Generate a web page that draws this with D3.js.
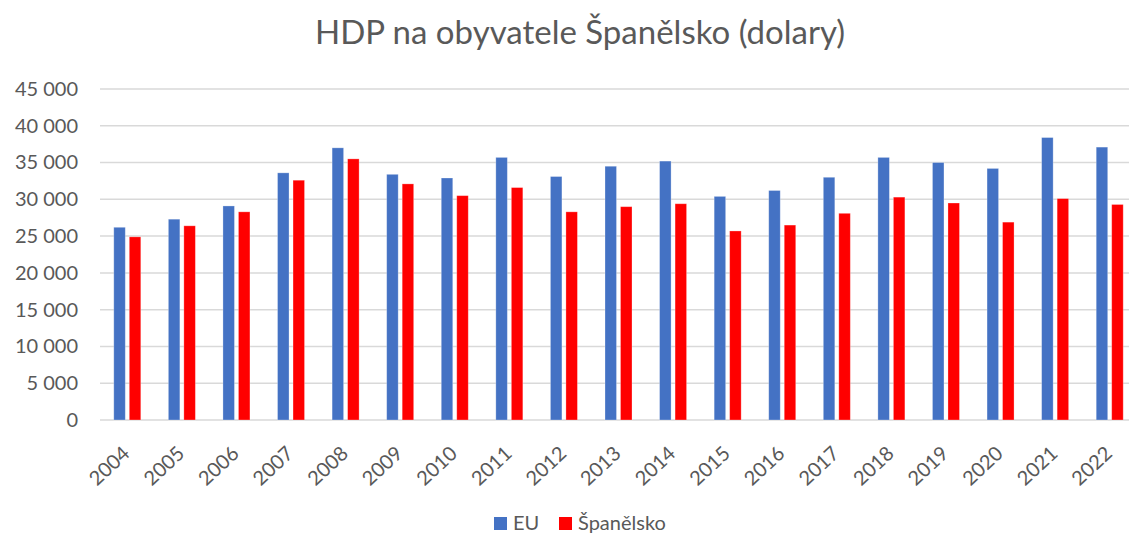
<!DOCTYPE html>
<html>
<head>
<meta charset="utf-8">
<script src="https://cdn.jsdelivr.net/npm/d3@7"></script>
<style>
  body { margin: 0; background: #fff; }
  svg { display: block; font-family: Lato, "Open Sans", sans-serif; }
</style>
</head>
<body>
<div id="chart"></div>
<script>
WIDTH = 1129;
HEIGHT = 536;

// Data
var years = ["2004", "2005", "2006", "2007", "2008", "2009", "2010", "2011", "2012", "2013",
  "2014", "2015", "2016", "2017", "2018", "2019", "2020", "2021", "2022"];
var euValues = [26200, 27300, 29100, 33600, 37000, 33400, 32900, 35700, 33100, 34500,
  35200, 30400, 31200, 33000, 35700, 35000, 34200, 38400, 37100];
var esValues = [24900, 26400, 28300, 32600, 35500, 32100, 30500, 31600, 28300, 29000,
  29400, 25700, 26500, 28100, 30300, 29500, 26900, 30100, 29300];
var seriesNames = ["EU", "Španělsko"];
var seriesColors = ["#4472C4", "#FF0000"];
var yTicks = [0, 5000, 10000, 15000, 20000, 25000, 30000, 35000, 40000, 45000];

var margin = { top: 89, right: -8, bottom: 116, left: 100 };

var svg = d3.select("#chart").append("svg")
  .attr("width", WIDTH)
  .attr("height", HEIGHT);

var x = d3.scaleBand()
  .domain(years)
  .range([margin.left, WIDTH - margin.right]);

var y = d3.scaleLinear()
  .domain([0, 45000])
  .range([HEIGHT - margin.bottom, margin.top]);

var fmt = function(d) { return d3.format(",")(d).replace(/,/g, " "); };

// title
svg.append("text")
  .attr("x", 580)
  .attr("y", 44)
  .attr("text-anchor", "middle")
  .attr("fill", "#595959")
  .style("font-size", "33px")
  .text("HDP na obyvatele Španělsko (dolary)");

// gridlines
svg.append("g")
  .selectAll("line")
  .data(yTicks)
  .enter()
  .append("line")
  .attr("x1", margin.left)
  .attr("x2", WIDTH)
  .attr("y1", d => y(d))
  .attr("y2", d => y(d))
  .attr("stroke", "#D9D9D9")
  .attr("stroke-width", 1.5);

// y axis labels
var yAxis = d3.axisLeft(y).tickValues(yTicks).tickFormat(fmt).tickSize(0).tickPadding(22);
var yg = svg.append("g")
  .attr("transform", "translate(" + margin.left + ",0)")
  .call(yAxis);
yg.select(".domain").remove();
yg.selectAll("text")
  .attr("fill", "#595959")
  .style("font-size", "20px")
  .style("font-family", "Lato, 'Open Sans', sans-serif");

// bars
var barW = 11.5;
var offsets = [-7.75, 7.75];
var seriesData = [euValues, esValues];

seriesData.forEach(function(vals, s) {
  svg.append("g")
    .selectAll("rect")
    .data(vals)
    .enter()
    .append("rect")
    .attr("x", (d, i) => x(years[i]) + x.bandwidth() / 2 + offsets[s] - barW / 2)
    .attr("y", d => y(d))
    .attr("width", barW)
    .attr("height", d => y(0) - y(d))
    .attr("fill", seriesColors[s])
    .attr("stroke", "#fff")
    .attr("stroke-opacity", 0.35)
    .attr("stroke-width", 0.8);
});

// x axis labels
var xg = svg.append("g");
xg.selectAll("text")
  .data(years)
  .enter()
  .append("text")
  .attr("transform", d => "translate(" + (x(d) + x.bandwidth() / 2 - 1) + "," + (y(0) + 30) + ") rotate(-43)")
  .attr("text-anchor", "end")
  .attr("dy", "0.35em")
  .attr("fill", "#595959")
  .style("font-size", "20px")
  .text(d => d);

// legend
var legend = svg.append("g").attr("transform", "translate(494,517)");
var legendX = [0, 65];
seriesNames.forEach(function(name, i) {
  var g = legend.append("g").attr("transform", "translate(" + legendX[i] + ",0)");
  g.append("rect")
    .attr("width", 13)
    .attr("height", 13)
    .attr("fill", seriesColors[i]);
  g.append("text")
    .attr("x", 19)
    .attr("y", 13)
    .attr("fill", "#595959")
    .style("font-size", "20px")
    .text(name);
});
</script>
</body>
</html>
